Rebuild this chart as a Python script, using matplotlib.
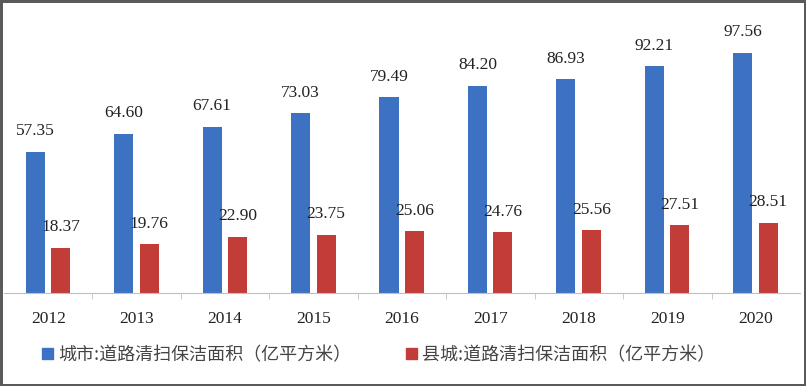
import matplotlib
matplotlib.use("Agg")
import matplotlib.pyplot as plt
import numpy as np
from matplotlib.patches import Patch

plt.rcParams['font.family'] = ['Liberation Serif', 'Noto Sans CJK SC', 'DejaVu Sans']

years = ["2012", "2013", "2014", "2015", "2016", "2017", "2018", "2019", "2020"]
city = [57.35, 64.60, 67.61, 73.03, 79.49, 84.20, 86.93, 92.21, 97.56]
county = [18.37, 19.76, 22.90, 23.75, 25.06, 24.76, 25.56, 27.51, 28.51]
labels = ["城市:道路清扫保洁面积（亿平方米）", "县城:道路清扫保洁面积（亿平方米）"]

BLUE = "#3d72c2"
RED = "#c23c38"

fig = plt.figure(figsize=(8.06, 3.86), dpi=100, edgecolor="#5a5a5a", linewidth=2.5)
ax = fig.add_axes([4 / 806, 93 / 386, 796 / 806, 288 / 386])

x = np.arange(len(years))
w = 0.215
b1 = ax.bar(x - 0.147, city, w, color=BLUE)
b2 = ax.bar(x + 0.141, county, w, color=RED)

# value labels above each bar
for rects, vals in ((b1, city), (b2, county)):
    for r, v in zip(rects, vals):
        ax.annotate(f"{v:.2f}", (r.get_x() + r.get_width() / 2, v),
                    xytext=(0, 9), textcoords="offset points",
                    ha="center", va="bottom", fontsize=12.5, color="#222222")

ax.set_xlim(-0.5, len(years) - 0.5)
ax.set_ylim(0, 117)
ax.set_yticks([])
ax.set_xticks(x)
ax.set_xticklabels(years, fontsize=12.5, color="#222222")
ax.set_xticks(x[:-1] + 0.5, minor=True)
ax.tick_params(axis="x", which="major", length=0, pad=13)
ax.tick_params(axis="x", which="minor", length=4, color="#bfbfbf")
for s in ("top", "left", "right"):
    ax.spines[s].set_visible(False)
ax.spines["bottom"].set_color("#bfbfbf")

handles = [Patch(color=BLUE), Patch(color=RED)]
fig.legend(handles, labels, loc="center left", bbox_to_anchor=(26 / 806, 31 / 386),
           ncol=2, frameon=False, handlelength=0.6, handleheight=0.6,
           handletextpad=0.3, columnspacing=3.0,
           prop={"family": ["Noto Sans CJK SC", "DejaVu Sans"], "size": 13},
           labelcolor="#444444")

fig.savefig("out.png", dpi=100)
